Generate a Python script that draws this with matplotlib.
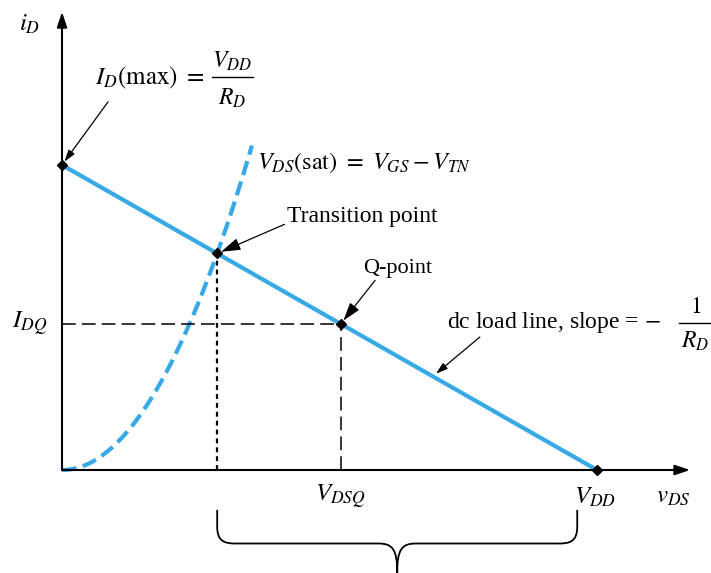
import matplotlib
matplotlib.use("Agg")
import numpy as np
import matplotlib.pyplot as plt
from matplotlib.path import Path
from matplotlib.patches import PathPatch

# circuit values (normalised units)
VDD = 10.0
RD = 1.0
ID_MAX = VDD / RD
K_SAT = 0.844          # i_D = K * v_DS^2 along the saturation boundary
VDSQ = 5.21
IDQ = (VDD - VDSQ) / RD

# transition point: boundary meets load line
V_TR = (-1 / RD + np.sqrt(1 / RD**2 + 4 * K_SAT * VDD / RD)) / (2 * K_SAT)
I_TR = (VDD - V_TR) / RD

BLUE = "#36a9e6"

plt.rcParams["font.family"] = ["Liberation Serif", "DejaVu Serif"]
plt.rcParams["mathtext.fontset"] = "stix"

fig = plt.figure(figsize=(7.11, 5.73), dpi=100)
ax = fig.add_axes([0, 0, 1, 1])
ax.set_xlim(-1.159, 12.13)
ax.set_ylim(-3.377, 15.41)
ax.axis("off")


def fraction(x, y, num, den, width, size=17, up=0.5, down=0.68):
    # stacked fraction with its bar centred on (x, y)
    ax.text(x, y + up, num, fontsize=size, ha="center", va="center")
    ax.plot([x - width / 2, x + width / 2], [y, y], color="black", lw=1.0,
            clip_on=False)
    ax.text(x, y - down, den, fontsize=size, ha="center", va="center")


# axes with arrow heads
ax.annotate("", xy=(0, 15.02), xytext=(0, 0),
            arrowprops=dict(arrowstyle="-|>,head_length=0.9,head_width=0.3",
                            color="black", lw=1.5, shrinkA=0, shrinkB=0))
ax.annotate("", xy=(11.74, 0), xytext=(0, 0),
            arrowprops=dict(arrowstyle="-|>,head_length=0.9,head_width=0.3",
                            color="black", lw=1.5, shrinkA=0, shrinkB=0))

# saturation boundary
v_sat = np.linspace(0, 3.55, 200)
ax.plot(v_sat, K_SAT * v_sat**2, color=BLUE, lw=3, ls=(0, (3.5, 1.6)),
        solid_capstyle="butt", dash_capstyle="butt")

# dc load line
v_ll = np.array([0, VDD])
ax.plot(v_ll, (VDD - v_ll) / RD, color=BLUE, lw=3)

# guide lines
ax.plot([0, VDSQ], [IDQ, IDQ], color="black", lw=1.1, ls=(0, (9, 4)))
ax.plot([VDSQ, VDSQ], [0, IDQ], color="black", lw=1.1, ls=(0, (9, 4)))
ax.plot([V_TR, V_TR], [0, I_TR], color="black", lw=1.6, ls=(0, (2.2, 1.8)))

# marked points
ax.plot([0, V_TR, VDSQ, VDD], [ID_MAX, I_TR, IDQ, 0], "D",
        color="black", ms=5, zorder=5)

arrow = dict(arrowstyle="-|>,head_length=0.7,head_width=0.22",
             color="black", lw=0.9, shrinkA=0, shrinkB=3)

ax.text(-0.60, 14.6, r"$i_D$", fontsize=18, ha="center", va="center")

# I_D(max) = V_DD / R_D
ax.text(2.66, 12.85, r"$I_D(\mathrm{max})\ =$", fontsize=18,
        ha="right", va="center")
fraction(3.18, 12.89, r"$V_{DD}$", r"$R_D$", 0.77, up=0.5, down=0.72)
ax.annotate("", xy=(0, ID_MAX), xytext=(0.86, 12.07), arrowprops=arrow)

ax.text(3.64, 10.07, r"$V_{DS}(\mathrm{sat})\ =\ V_{GS} - V_{TN}$",
        fontsize=17.5, ha="left", va="center")
ax.annotate("Transition point", xy=(V_TR, I_TR), xytext=(4.21, 8.30),
            fontsize=17, ha="left", va="center",
            arrowprops=dict(arrow, relpos=(0, 0.2)))
ax.annotate("Q-point", xy=(VDSQ, IDQ), xytext=(6.28, 6.62),
            fontsize=16, ha="center", va="center",
            arrowprops=dict(arrow, relpos=(0.2, 0)))

# load line label with slope fraction
ax.text(7.20, 4.85, r"dc load line, slope = $-$", fontsize=17,
        ha="left", va="center")
fraction(11.84, 4.82, r"$1$", r"$R_D$", 0.62, size=17, up=0.52, down=0.6)
ax.annotate("", xy=(6.93, (VDD - 6.93) / RD), xytext=(7.81, 4.36),
            arrowprops=arrow)

ax.text(-0.60, IDQ, r"$I_{DQ}$", fontsize=18, ha="center", va="center")
ax.text(VDSQ, -0.89, r"$V_{DSQ}$", fontsize=18, ha="center", va="center")
ax.text(VDD - 0.03, -0.89, r"$V_{DD}$", fontsize=18, ha="center", va="center")
ax.text(11.43, -0.89, r"$v_{DS}$", fontsize=18, ha="center", va="center")

# brace under the saturation-region span
x0, x1 = V_TR, 9.63
xc = (x0 + x1) / 2
top, mid, tip = -1.31, -2.41, -3.38
r = 0.35
verts = [(x0, top), (x0, mid + 0.55),
         (x0, mid + 0.05), (x0 + 0.15, mid), (x0 + r, mid),
         (xc - r, mid),
         (xc - 0.08, mid), (xc, mid - 0.2), (xc, tip),
         (xc, mid - 0.2), (xc + 0.08, mid), (xc + r, mid),
         (x1 - r, mid),
         (x1 - 0.15, mid), (x1, mid + 0.05), (x1, mid + 0.55),
         (x1, top)]
codes = [Path.MOVETO, Path.LINETO,
         Path.CURVE4, Path.CURVE4, Path.CURVE4,
         Path.LINETO,
         Path.CURVE4, Path.CURVE4, Path.CURVE4,
         Path.CURVE4, Path.CURVE4, Path.CURVE4,
         Path.LINETO,
         Path.CURVE4, Path.CURVE4, Path.CURVE4,
         Path.LINETO]
ax.add_patch(PathPatch(Path(verts, codes), fill=False, lw=1.3, color="black",
                       clip_on=False))

fig.savefig("out.png", dpi=100)
